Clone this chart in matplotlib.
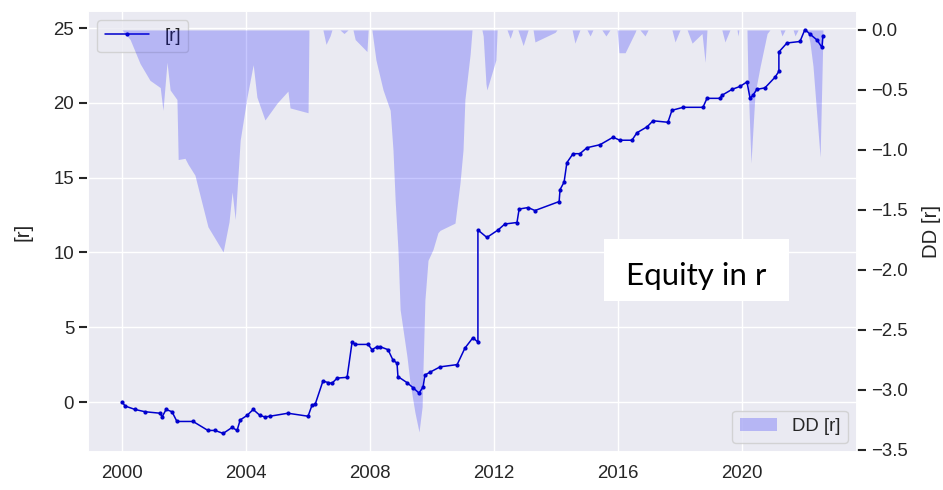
import matplotlib
matplotlib.use('Agg')
import matplotlib.pyplot as plt
import seaborn as sns
from matplotlib.patches import Rectangle

# equity curve, cumulative r (decimal years)
equity_years = [
    2000.00, 2000.10, 2000.42, 2000.74, 2001.23, 2001.29, 2001.42, 2001.61,
    2001.77, 2002.29, 2002.77, 2003.00, 2003.26, 2003.55, 2003.71, 2003.81,
    2004.03, 2004.23, 2004.45, 2004.61, 2004.77, 2005.35, 2006.00, 2006.13,
    2006.23, 2006.48, 2006.65, 2006.77, 2006.94, 2007.26, 2007.42, 2007.52,
    2007.94, 2008.06, 2008.23, 2008.32, 2008.58, 2008.74, 2008.87, 2008.90,
    2009.19, 2009.39, 2009.58, 2009.71, 2009.77, 2009.94, 2010.26, 2010.81,
    2011.06, 2011.32, 2011.48, 2011.48, 2011.77, 2012.13, 2012.35, 2012.74,
    2012.81, 2013.10, 2013.32, 2014.10, 2014.13, 2014.26, 2014.35, 2014.55,
    2014.77, 2015.00, 2015.42, 2015.84, 2016.06, 2016.45, 2016.61, 2016.94,
    2017.13, 2017.61, 2017.74, 2018.10, 2018.74, 2018.87, 2019.29, 2019.35,
    2019.68, 2019.94, 2020.16, 2020.26, 2020.35, 2020.48, 2020.74, 2021.06,
    2021.19, 2021.19, 2021.45, 2021.87, 2022.03, 2022.19, 2022.42, 2022.58,
    2022.61,
]
equity_r = [
    0.0, -0.27, -0.5, -0.65, -0.75, -1.0, -0.5, -0.65,
    -1.3, -1.3, -1.9, -1.9, -2.1, -1.7, -1.9, -1.2,
    -0.9, -0.5, -0.9, -1.0, -0.95, -0.75, -0.95, -0.2,
    -0.15, 1.4, 1.3, 1.25, 1.6, 1.65, 4.0, 3.85,
    3.85, 3.5, 3.7, 3.7, 3.5, 2.8, 2.6, 1.7,
    1.3, 0.95, 0.6, 1.0, 1.8, 2.0, 2.35, 2.5,
    3.6, 4.3, 4.0, 11.5, 11.0, 11.5, 11.9, 12.0,
    12.9, 13.0, 12.8, 13.4, 14.2, 14.7, 16.0, 16.6,
    16.6, 17.0, 17.2, 17.7, 17.5, 17.5, 18.0, 18.4,
    18.8, 18.7, 19.5, 19.7, 19.7, 20.3, 20.3, 20.5,
    20.9, 21.1, 21.4, 20.3, 20.5, 20.9, 21.0, 21.7,
    22.1, 23.4, 24.0, 24.1, 24.9, 24.6, 24.2, 23.7,
    24.5,
]

# drawdown from running peak, r
dd_years = [
    2000.00, 2000.26, 2000.58, 2000.90, 2001.23, 2001.32, 2001.45, 2001.55,
    2001.77, 2001.81, 2002.03, 2002.13, 2002.35, 2002.77, 2003.26, 2003.45,
    2003.55, 2003.65, 2003.81, 2004.03, 2004.23, 2004.35, 2004.61, 2005.00,
    2005.35, 2005.42, 2006.00, 2006.03, 2006.48, 2006.58, 2006.71, 2006.77,
    2007.03, 2007.16, 2007.29, 2007.45, 2007.52, 2007.90, 2007.94, 2008.06,
    2008.19, 2008.42, 2008.65, 2008.74, 2008.81, 2008.90, 2008.97, 2009.19,
    2009.29, 2009.45, 2009.58, 2009.68, 2009.71, 2009.77, 2009.87, 2010.03,
    2010.19, 2010.26, 2010.74, 2010.90, 2011.00, 2011.06, 2011.23, 2011.29,
    2011.61, 2011.65, 2011.74, 2011.77, 2012.06, 2012.10, 2012.42, 2012.52,
    2012.61, 2012.77, 2012.94, 2013.10, 2013.26, 2013.32, 2013.97, 2014.03,
    2014.52, 2014.61, 2014.77, 2015.00, 2015.10, 2015.19, 2015.48, 2015.61,
    2015.74, 2015.97, 2016.03, 2016.23, 2016.55, 2016.58, 2016.71, 2016.87,
    2016.97, 2017.74, 2017.84, 2018.00, 2018.23, 2018.39, 2018.71, 2018.81,
    2018.87, 2019.35, 2019.45, 2019.61, 2019.84, 2019.87, 2019.90, 2020.16,
    2020.19, 2020.29, 2020.42, 2020.58, 2020.81, 2020.90, 2021.23, 2021.29,
    2021.39, 2021.65, 2021.71, 2021.81, 2022.10, 2022.19, 2022.29, 2022.52,
    2022.61,
]
dd_r = [
    0.0, -0.08, -0.28, -0.42, -0.48, -0.67, -0.27, -0.50,
    -0.58, -1.08, -1.07, -1.12, -1.21, -1.64, -1.85, -1.60,
    -1.35, -1.58, -0.92, -0.56, -0.29, -0.56, -0.75, -0.61,
    -0.51, -0.65, -0.69, 0.0, 0.0, -0.12, -0.05, 0.0,
    0.0, -0.03, 0.0, 0.0, -0.08, -0.18, 0.0, 0.0,
    -0.25, -0.50, -0.67, -1.00, -1.42, -1.83, -2.33, -2.72,
    -2.94, -3.19, -3.35, -3.14, -2.81, -2.25, -1.92, -1.83,
    -1.69, -1.67, -1.61, -1.28, -1.00, -0.58, -0.20, 0.0,
    0.0, -0.05, -0.45, -0.50, -0.25, 0.0, 0.0, -0.07,
    0.0, 0.0, -0.13, 0.0, 0.0, -0.10, -0.02, 0.0,
    0.0, -0.11, 0.0, 0.0, -0.05, 0.0, 0.0, -0.05,
    0.0, 0.0, -0.19, -0.19, -0.02, 0.0, 0.0, -0.05,
    0.0, 0.0, -0.10, 0.0, 0.0, -0.11, -0.03, -0.27,
    0.0, 0.0, -0.10, 0.0, 0.0, -0.05, 0.0, 0.0,
    -0.40, -1.11, -0.53, -0.31, -0.03, 0.0, 0.0, -0.05,
    0.0, 0.0, -0.05, 0.0, 0.0, -0.10, -0.30, -1.06,
    -0.05,
]

year_ticks = [2000, 2004, 2008, 2012, 2016, 2020]

sns.set_theme(style='darkgrid', context='notebook', font_scale=1.22)
plt.rcParams['font.family'] = ['Liberation Sans', 'DejaVu Sans']

fig = plt.figure(figsize=(9.43, 4.9), dpi=100)
ax = fig.add_axes([0.0933, 0.0776, 0.8155, 0.9])

ax.plot(equity_years, equity_r, color='mediumblue', lw=1.1,
        marker='.', ms=4, label='[r]')
ax.set_xlim(1998.9, 2023.71)
ax.set_ylim(-3.34, 26.14)
ax.set_xticks(year_ticks)
ax.set_ylabel('[r]', labelpad=15)
ax.tick_params(axis='y', left=True, length=6.5, width=1.5, color='#262626')
ax.legend(loc='upper left', handlelength=2.4)

ax2 = ax.twinx()
ax2.fill_between(dd_years, dd_r, 0, color='blue', alpha=0.22, lw=0,
                 label='DD [r]')
ax2.set_ylim(-3.517, 0.158)
ax2.grid(False)
ax2.set_ylabel('DD [r]', labelpad=10)
ax2.tick_params(axis='y', right=True, length=6.5, width=1.5, color='#262626')
ax2.legend(loc='lower right')

# white caption box
W, H = 943, 490
fig.add_artist(Rectangle((604 / W, 1 - 301 / H), 185 / W, 62 / H,
                         transform=fig.transFigure, fc='white', ec='none',
                         zorder=5))
fig.text(696.5 / W, 1 - 285 / H, 'Equity in r', ha='center', va='baseline',
         fontsize=22.5, family=['Lato', 'DejaVu Sans'], color='black', zorder=6)

plt.savefig('out.png', dpi=100)
